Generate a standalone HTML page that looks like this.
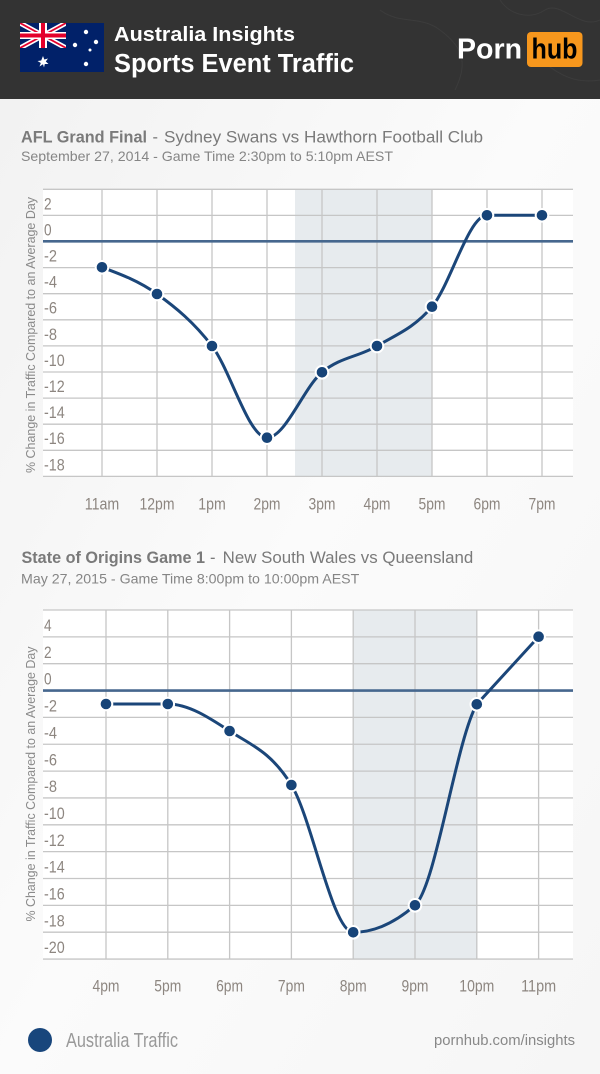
<!DOCTYPE html>
<html>
<head>
<meta charset="utf-8">
<style>
html,body{margin:0;padding:0;background:#f8f8f8;}
body{width:600px;height:1074px;overflow:hidden;}
svg{display:block;}
.tick{font-family:"Liberation Sans Narrow","Liberation Sans",sans-serif;font-size:17px;fill:#8d8680;}
.grid{stroke:#c6c6c6;stroke-width:1.3;fill:none;}
.zero{stroke:#46678e;stroke-width:2.6;}
.data{stroke:#1b4679;stroke-width:3;fill:none;stroke-linejoin:round;stroke-linecap:round;}
.pt{fill:#174478;stroke:#ffffff;stroke-width:2;}
.ttl{font-family:"Liberation Sans",sans-serif;font-size:16.5px;fill:#7a7a7a;}
.sub{font-family:"Liberation Sans",sans-serif;font-size:14px;fill:#858585;}
.ax{font-family:"Liberation Sans",sans-serif;font-size:13px;fill:#8a8a8a;}
</style>
</head>
<body>
<svg width="600" height="1074" viewBox="0 0 600 1074" xmlns="http://www.w3.org/2000/svg">
  <defs>
    <linearGradient id="bg" x1="0" y1="0" x2="1" y2="1">
      <stop offset="0" stop-color="#f1f1f1"/>
      <stop offset="0.5" stop-color="#fbfbfb"/>
      <stop offset="1" stop-color="#f6f6f6"/>
    </linearGradient>
  </defs>
  <rect x="0" y="0" width="600" height="1074" fill="url(#bg)"/>

  <!-- HEADER -->
  <rect x="0" y="0" width="600" height="99" fill="#333333"/>
  <g stroke="#3c3c3c" stroke-width="1" fill="none">
    <path d="M380 10 C400 25 420 15 440 30 S 470 60 455 90"/>
    <path d="M500 0 C510 15 530 20 545 10 S 580 30 600 20"/>
    <path d="M540 60 C555 70 570 85 600 80"/>
  </g>
  <!-- Flag -->
  <rect x="20" y="23" width="84" height="49" fill="#012169"/>
  <svg x="20" y="23" width="46" height="25" viewBox="0 0 46 25">
    <rect width="46" height="25" fill="#012169"/>
    <path d="M0 0 L46 25 M46 0 L0 25" stroke="#ffffff" stroke-width="5"/>
    <path d="M0 0 L46 25 M46 0 L0 25" stroke="#e4002b" stroke-width="1.8"/>
    <rect x="19" y="0" width="8" height="25" fill="#ffffff"/>
    <rect x="0" y="9" width="46" height="7" fill="#ffffff"/>
    <rect x="21" y="0" width="4" height="25" fill="#e4002b"/>
    <rect x="0" y="10.5" width="46" height="4" fill="#e4002b"/>
  </svg>
  <g fill="#ffffff">
    <polygon points="43,56 44.3,59.5 48,58.5 45.8,61.5 48.5,64 44.8,64 44,67.5 43,64.3 39.5,66.5 40.8,63 37.5,61 41.2,60.5"/>
    <circle cx="86" cy="32" r="2.2"/>
    <circle cx="96" cy="42" r="2.2"/>
    <circle cx="75" cy="45" r="2.2"/>
    <circle cx="90" cy="50" r="1.5"/>
    <circle cx="86" cy="64" r="2.2"/>
  </g>
  <text x="114" y="41" font-family="Liberation Sans, sans-serif" font-weight="bold" font-size="20.5" fill="#ffffff" textLength="181" lengthAdjust="spacingAndGlyphs">Australia Insights</text>
  <text x="114" y="72" font-family="Liberation Sans, sans-serif" font-weight="bold" font-size="25.5" fill="#ffffff" textLength="240" lengthAdjust="spacingAndGlyphs">Sports Event Traffic</text>
  <!-- Logo -->
  <text x="457" y="58.5" font-family="Liberation Sans, sans-serif" font-weight="bold" font-size="29" fill="#ffffff" textLength="65" lengthAdjust="spacingAndGlyphs">Porn</text>
  <rect x="527" y="32" width="55.5" height="35" rx="4" fill="#f7971d"/>
  <text x="531.5" y="58.5" font-family="Liberation Sans, sans-serif" font-weight="bold" font-size="29" fill="#000000" textLength="46" lengthAdjust="spacingAndGlyphs">hub</text>

  <!-- CHART 1 TITLE -->
  <text class="ttl" x="21" y="142.5" font-weight="bold" textLength="126" lengthAdjust="spacingAndGlyphs">AFL Grand Final</text>
  <text class="ttl" x="152.5" y="142.5">-</text>
  <text class="ttl" x="164" y="142.5" textLength="319" lengthAdjust="spacingAndGlyphs">Sydney Swans vs Hawthorn Football Club</text>
  <text class="sub" x="21" y="161" textLength="372" lengthAdjust="spacingAndGlyphs">September 27, 2014 - Game Time 2:30pm to 5:10pm AEST</text>

  <!-- CHART 1 PLOT -->
  <rect x="43" y="189.3" width="530" height="287" fill="#ffffff"/>
  <rect x="295" y="189.3" width="137.5" height="287" fill="#e7ebee"/>
  <g class="grid">
    <path d="M43 189.3H573 M43 215.4H573 M43 267.6H573 M43 293.7H573 M43 319.8H573 M43 345.9H573 M43 372H573 M43 398.1H573 M43 424.2H573 M43 450.3H573 M43 476.4H573"/>
    <path d="M102 189.3V476.4 M157 189.3V476.4 M212 189.3V476.4 M267 189.3V476.4 M322 189.3V476.4 M377 189.3V476.4 M432 189.3V476.4 M487 189.3V476.4 M542 189.3V476.4"/>
  </g>
  <line class="zero" x1="43" y1="241.3" x2="573" y2="241.3"/>
  <g class="tick">
    <text x="44" y="209.3" textLength="7.6" lengthAdjust="spacingAndGlyphs">2</text>
    <text x="44" y="235.4" textLength="7.6" lengthAdjust="spacingAndGlyphs">0</text>
    <text x="44" y="261.5" textLength="13" lengthAdjust="spacingAndGlyphs">-2</text>
    <text x="44" y="287.6" textLength="13" lengthAdjust="spacingAndGlyphs">-4</text>
    <text x="44" y="313.7" textLength="13" lengthAdjust="spacingAndGlyphs">-6</text>
    <text x="44" y="339.8" textLength="13" lengthAdjust="spacingAndGlyphs">-8</text>
    <text x="44" y="365.9" textLength="20.7" lengthAdjust="spacingAndGlyphs">-10</text>
    <text x="44" y="392" textLength="20.7" lengthAdjust="spacingAndGlyphs">-12</text>
    <text x="44" y="418.1" textLength="20.7" lengthAdjust="spacingAndGlyphs">-14</text>
    <text x="44" y="444.2" textLength="20.7" lengthAdjust="spacingAndGlyphs">-16</text>
    <text x="44" y="470.3" textLength="20.7" lengthAdjust="spacingAndGlyphs">-18</text>
  </g>
  <g class="tick" text-anchor="middle">
    <text x="102" y="509.5" textLength="34.5" lengthAdjust="spacingAndGlyphs">11am</text>
    <text x="157" y="509.5" textLength="35" lengthAdjust="spacingAndGlyphs">12pm</text>
    <text x="212" y="509.5" textLength="27.5" lengthAdjust="spacingAndGlyphs">1pm</text>
    <text x="267" y="509.5" textLength="27" lengthAdjust="spacingAndGlyphs">2pm</text>
    <text x="322" y="509.5" textLength="27" lengthAdjust="spacingAndGlyphs">3pm</text>
    <text x="377" y="509.5" textLength="27" lengthAdjust="spacingAndGlyphs">4pm</text>
    <text x="432" y="509.5" textLength="27" lengthAdjust="spacingAndGlyphs">5pm</text>
    <text x="487" y="509.5" textLength="27" lengthAdjust="spacingAndGlyphs">6pm</text>
    <text x="542" y="509.5" textLength="27" lengthAdjust="spacingAndGlyphs">7pm</text>
  </g>
  <text class="ax" transform="translate(35,335) rotate(-90)" text-anchor="middle" textLength="276" lengthAdjust="spacingAndGlyphs">% Change in Traffic Compared to an Average Day</text>
  <path class="data" d="M102 267.3 C120.33 274.09 138.67 280.88 157 294 C175.33 307.12 193.67 322.05 212 346 C230.33 369.95 248.67 437.7 267 437.7 C285.33 437.7 303.67 387.58 322 372.3 C340.33 357.02 358.67 356.93 377 346 C395.33 335.07 413.67 328.48 432 306.7 C450.33 284.92 468.67 215.3 487 215.3 C505.33 215.3 523.67 215.3 542 215.3"/>
  <g class="pt">
    <circle cx="102" cy="267.3" r="6.3"/>
    <circle cx="157" cy="294" r="6.3"/>
    <circle cx="212" cy="346" r="6.3"/>
    <circle cx="267" cy="437.7" r="6.3"/>
    <circle cx="322" cy="372.3" r="6.3"/>
    <circle cx="377" cy="346" r="6.3"/>
    <circle cx="432" cy="306.7" r="6.3"/>
    <circle cx="487" cy="215.3" r="6.3"/>
    <circle cx="542" cy="215.3" r="6.3"/>
  </g>

  <!-- CHART 2 TITLE -->
  <text class="ttl" x="21.5" y="563" font-weight="bold" textLength="183.5" lengthAdjust="spacingAndGlyphs">State of Origins Game 1</text>
  <text class="ttl" x="210" y="563">-</text>
  <text class="ttl" x="222.7" y="563" textLength="250.6" lengthAdjust="spacingAndGlyphs">New South Wales vs Queensland</text>
  <text class="sub" x="21" y="583.3" textLength="338.3" lengthAdjust="spacingAndGlyphs">May 27, 2015 - Game Time 8:00pm to 10:00pm AEST</text>

  <!-- CHART 2 PLOT -->
  <rect x="43" y="610" width="530" height="349" fill="#ffffff"/>
  <rect x="353.2" y="610" width="123.6" height="349" fill="#e7ebee"/>
  <g class="grid">
    <path d="M43 610H573 M43 636.85H573 M43 663.7H573 M43 717.4H573 M43 744.25H573 M43 771.1H573 M43 797.95H573 M43 824.8H573 M43 851.65H573 M43 878.5H573 M43 905.35H573 M43 932.2H573 M43 959.05H573"/>
    <path d="M106 610V959 M167.8 610V959 M229.6 610V959 M291.4 610V959 M353.2 610V959 M415 610V959 M476.8 610V959 M538.6 610V959"/>
  </g>
  <line class="zero" x1="43" y1="690.6" x2="573" y2="690.6"/>
  <g class="tick">
    <text x="44" y="631" textLength="7.6" lengthAdjust="spacingAndGlyphs">4</text>
    <text x="44" y="657.85" textLength="7.6" lengthAdjust="spacingAndGlyphs">2</text>
    <text x="44" y="684.7" textLength="7.6" lengthAdjust="spacingAndGlyphs">0</text>
    <text x="44" y="711.55" textLength="13" lengthAdjust="spacingAndGlyphs">-2</text>
    <text x="44" y="738.4" textLength="13" lengthAdjust="spacingAndGlyphs">-4</text>
    <text x="44" y="765.25" textLength="13" lengthAdjust="spacingAndGlyphs">-6</text>
    <text x="44" y="792.1" textLength="13" lengthAdjust="spacingAndGlyphs">-8</text>
    <text x="44" y="818.95" textLength="20.7" lengthAdjust="spacingAndGlyphs">-10</text>
    <text x="44" y="845.8" textLength="20.7" lengthAdjust="spacingAndGlyphs">-12</text>
    <text x="44" y="872.65" textLength="20.7" lengthAdjust="spacingAndGlyphs">-14</text>
    <text x="44" y="899.5" textLength="20.7" lengthAdjust="spacingAndGlyphs">-16</text>
    <text x="44" y="926.35" textLength="20.7" lengthAdjust="spacingAndGlyphs">-18</text>
    <text x="44" y="953.2" textLength="20.7" lengthAdjust="spacingAndGlyphs">-20</text>
  </g>
  <g class="tick" text-anchor="middle">
    <text x="106" y="991.5" textLength="27" lengthAdjust="spacingAndGlyphs">4pm</text>
    <text x="167.8" y="991.5" textLength="27" lengthAdjust="spacingAndGlyphs">5pm</text>
    <text x="229.6" y="991.5" textLength="27" lengthAdjust="spacingAndGlyphs">6pm</text>
    <text x="291.4" y="991.5" textLength="27" lengthAdjust="spacingAndGlyphs">7pm</text>
    <text x="353.2" y="991.5" textLength="27" lengthAdjust="spacingAndGlyphs">8pm</text>
    <text x="415" y="991.5" textLength="27" lengthAdjust="spacingAndGlyphs">9pm</text>
    <text x="476.8" y="991.5" textLength="35" lengthAdjust="spacingAndGlyphs">10pm</text>
    <text x="538.6" y="991.5" textLength="35" lengthAdjust="spacingAndGlyphs">11pm</text>
  </g>
  <text class="ax" transform="translate(35,784) rotate(-90)" text-anchor="middle" textLength="275" lengthAdjust="spacingAndGlyphs">% Change in Traffic Compared to an Average Day</text>
  <path class="data" d="M106 704 C126.6 704 147.2 704 167.8 704 C188.4 704 209 717.5 229.6 731 C250.2 744.5 270.8 751.45 291.4 785 C312 818.55 332.6 932.3 353.2 932.3 C373.8 932.3 394.4 923.3 415 905.3 C435.6 887.3 456.2 740 476.8 704.3 C497.4 681.8 518 659.2 538.6 636.7"/>
  <g class="pt">
    <circle cx="106" cy="704" r="6.3"/>
    <circle cx="167.8" cy="704" r="6.3"/>
    <circle cx="229.6" cy="731" r="6.3"/>
    <circle cx="291.4" cy="785" r="6.3"/>
    <circle cx="353.2" cy="932.3" r="6.3"/>
    <circle cx="415" cy="905.3" r="6.3"/>
    <circle cx="476.8" cy="704.3" r="6.3"/>
    <circle cx="538.6" cy="636.7" r="6.3"/>
  </g>

  <!-- FOOTER -->
  <circle cx="40" cy="1040" r="12" fill="#18467c"/>
  <text x="66" y="1047" font-family="Liberation Sans Narrow, Liberation Sans, sans-serif" font-size="20" fill="#999999" textLength="112" lengthAdjust="spacingAndGlyphs">Australia Traffic</text>
  <text x="575" y="1045" text-anchor="end" font-family="Liberation Sans, sans-serif" font-size="14.5" fill="#888888" textLength="141" lengthAdjust="spacingAndGlyphs">pornhub.com/insights</text>
</svg>
</body>
</html>
